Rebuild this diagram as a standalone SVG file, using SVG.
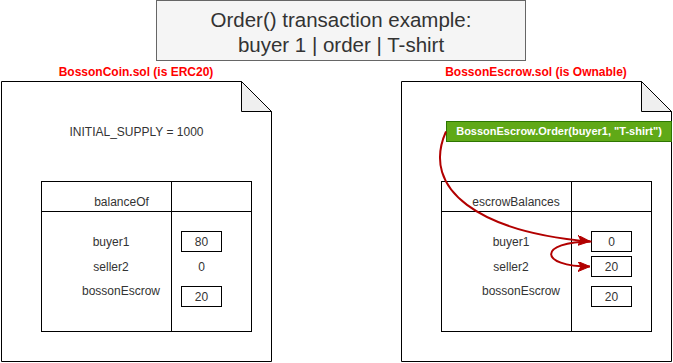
<svg xmlns="http://www.w3.org/2000/svg" width="673" height="363" viewBox="0 0 673 363">
<style>
text{font-family:"Liberation Sans",Arial,sans-serif;font-size:12px;fill:#333;text-anchor:middle}
.doc{fill:#fff;stroke:#000;stroke-width:1}
.fold{fill:#efefef;stroke:#000;stroke-width:1}
.tbl{fill:none;stroke:#000;stroke-width:1}
.box{fill:#fff;stroke:#000;stroke-width:1}
.red{fill:#ff0000;font-weight:bold}
.title{font-size:20.5px;fill:#333}
.edge{fill:none;stroke:#b20000;stroke-width:2}
</style>
<defs>
<marker id="arr" markerUnits="userSpaceOnUse" markerWidth="14" markerHeight="12" refX="12" refY="5" orient="auto" viewBox="0 0 14 12">
<path d="M0,0 L12,5 L0,10 L3,5 Z" fill="#b20000" stroke="#b20000" stroke-width="1"/>
</marker>
</defs>
<rect width="673" height="363" fill="#fff"/>
<g id="title">
<rect x="156.5" y="0.5" width="369" height="60" fill="#f5f5f5" stroke="#666"/>
<text class="title" x="341" y="27">Order() transaction example:</text>
<text class="title" x="341" y="52">buyer 1 | order | T-shirt</text>
</g>
<g id="coin">
<text class="red" x="136" y="76">BossonCoin.sol (is ERC20)</text>
<path class="doc" d="M1.5,81.5 H241.5 L271.5,111.5 V361.5 H1.5 Z"/>
<path class="fold" d="M241.5,81.5 V111.5 H271.5 Z"/>
<text x="136.5" y="136">INITIAL_SUPPLY = 1000</text>
</g>
<g id="coin-table">
<rect class="tbl" x="41.5" y="181.5" width="210" height="150"/>
<path class="tbl" d="M41.5,211.5 H251.5 M171.5,181.5 V331.5"/>
<text x="121.5" y="205.5">balanceOf</text>
<text x="111" y="246">buyer1</text>
<text x="111" y="271">seller2</text>
<text x="121" y="295">bossonEscrow</text>
<rect class="box" x="181.5" y="231.5" width="40" height="20"/>
<text x="201.5" y="245.8">80</text>
<text x="201.5" y="270.5">0</text>
<rect class="box" x="181.5" y="286.5" width="40" height="20"/>
<text x="201.5" y="300.8">20</text>
</g>
<g id="escrow">
<text class="red" x="536" y="76">BossonEscrow.sol (is Ownable)</text>
<path class="doc" d="M401.5,81.5 H641.5 L671.5,111.5 V361.5 H401.5 Z"/>
<path class="fold" d="M641.5,81.5 V111.5 H671.5 Z"/>
</g>
<g id="escrow-table">
<rect class="tbl" x="441.5" y="181.5" width="210" height="150"/>
<path class="tbl" d="M441.5,211.5 H651.5 M571.5,181.5 V331.5"/>
<text x="516" y="205.5">escrowBalances</text>
<text x="511" y="246">buyer1</text>
<text x="511" y="271">seller2</text>
<text x="521" y="295">bossonEscrow</text>
<rect class="box" x="591.5" y="231.5" width="40" height="20"/>
<text x="611.5" y="245.8">0</text>
<rect class="box" x="591.5" y="256.5" width="40" height="20"/>
<text x="611.5" y="270.8">20</text>
<rect class="box" x="591.5" y="286.5" width="40" height="20"/>
<text x="611.5" y="300.8">20</text>
</g>
<g id="order-call">
<rect x="446.5" y="121.5" width="225" height="20" fill="#60a917" stroke="#2d7600"/>
<text x="559" y="135.3" style="fill:#fff;font-weight:bold;font-size:11px">BossonEscrow.Order(buyer1, "T-shirt")</text>
</g>
<g id="connectors">
<path class="edge" d="M446,131.5 C420,190 480,232 590,241.5" marker-end="url(#arr)"/>
<path class="edge" d="M591.5,241.5 C538,241.5 538,266.5 590,266.5" marker-end="url(#arr)"/>
</g>
</svg>
